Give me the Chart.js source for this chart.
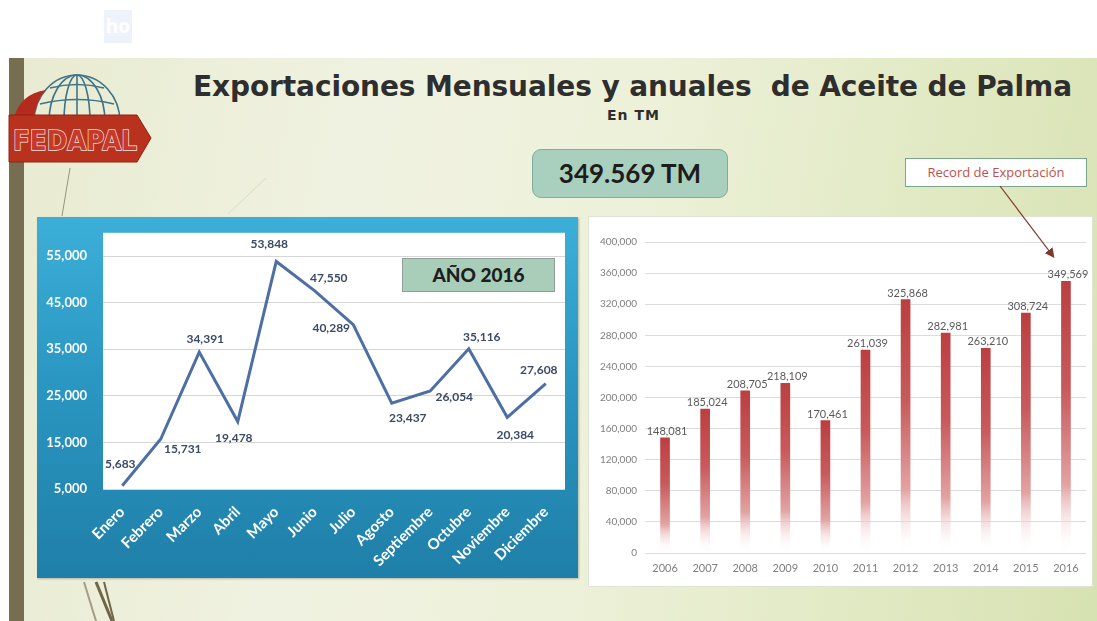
<!DOCTYPE html>
<html lang="es">
<head>
<meta charset="utf-8">
<title>Exportaciones de Aceite de Palma</title>
<script src="https://cdn.jsdelivr.net/npm/chart.js@4.4.1/dist/chart.umd.min.js"></script>
<style>
  body { margin: 0; width: 1097px; height: 621px; background: #fff; position: relative; overflow: hidden; font-family: Lato, sans-serif; }
  .abs { position: absolute; }
  #tag { left: 104px; top: 10px; width: 28px; height: 33px; background: #eef3fb; color: #fff; font: bold 19px 'Open Sans', sans-serif; line-height: 33px; text-align: center; }
  #slide { left: 9px; top: 58px; width: 1088px; height: 563px;
    background: linear-gradient(100deg, #e8ebd0 0%, #f0f2e1 30%, #edf1d9 55%, #e1e9c3 80%, #d7e2b2 100%); }
  #barra { left: 9px; top: 58px; width: 15px; height: 563px; background: #776e52; }
  #titulo { left: 193px; top: 70px; font: bold 28px 'DejaVu Sans', sans-serif; color: #2e2e2e; white-space: pre; }
  #sub { left: 607px; top: 107px; font: bold 14px 'DejaVu Sans', sans-serif; color: #2e2e2e; white-space: pre; }
  #total { left: 532px; top: 149px; width: 194px; height: 47px; border: 1px solid #83ad9a; border-radius: 9px; background: #a9cfbf;
    font: bold 26px Lato, sans-serif; color: #1c1c1c; line-height: 47px; text-align: center; }
  #record { left: 905px; top: 158px; width: 180px; height: 27px; border: 1px solid #79a58a; background: #fff;
    font: 13px 'Open Sans', sans-serif; color: #c0504d; line-height: 27px; text-align: center; }
  #panelIzq { left: 37px; top: 217px; width: 541px; height: 361px;
    background: linear-gradient(180deg, #3cafd8 0%, #2a97c2 45%, #1f7fa8 100%); box-shadow: 1px 1px 2px rgba(0,0,0,0.25); }
  #mensual { position: absolute; left: 0; top: -8px; }
  #panelDer { left: 588px; top: 216px; width: 503px; height: 369px; background: #fff; border: 1px solid #dfe3d6; }
  #anio { left: 402px; top: 258px; width: 151px; height: 32px; border: 1px solid #8f9e96; background: #a8cdb9;
    font: 900 19px Lato, sans-serif; color: #1e1e1e; line-height: 32px; text-align: center; }
</style>
</head>
<body>
<div id="tag" class="abs">ho</div>
<div id="slide" class="abs"></div>
<div id="barra" class="abs"></div>

<svg class="abs" style="left:0;top:0" width="1097" height="621">
  <!-- tallos decorativos del fondo -->
  <line x1="70" y1="168" x2="62" y2="216" stroke="#9a9478" stroke-width="1"/>
  <line x1="266" y1="178" x2="228" y2="214" stroke="#d8dcc6" stroke-width="1"/>
  <line x1="84" y1="582" x2="96" y2="621" stroke="#a39d86" stroke-width="2"/>
  <line x1="96" y1="582" x2="112" y2="621" stroke="#6f6548" stroke-width="3"/>
  <line x1="104" y1="582" x2="114" y2="621" stroke="#6f6548" stroke-width="2"/>
  <!-- logo -->
  <g fill="none" stroke="#3f7488" stroke-width="1.6">
    <path d="M34 122 A43 47 0 0 1 120 122"/>
    <path d="M49 122 A28 47 0 0 1 105 122"/>
    <path d="M64 122 A13 47 0 0 1 90 122"/>
    <line x1="77" y1="75" x2="77" y2="122"/>
    <path d="M40 104 Q77 95 114 104"/>
    <path d="M50 88 Q77 81 104 88"/>
  </g>
  <path d="M14 118 Q20 94 46 90 Q36 100 34 118 Z" fill="#b42b1e"/>
  <polygon points="9,115 137,115 151,138 137,162 9,162" fill="#b8321e" stroke="#8c2414" stroke-width="1"/>
  <text x="13" y="150" font-family="DejaVu Sans" font-weight="bold" font-size="26" textLength="124" lengthAdjust="spacingAndGlyphs"
        fill="#c8392a" stroke="#f0e6e0" stroke-width="1.4" paint-order="stroke">FEDAPAL</text>
</svg>

<div id="titulo" class="abs">Exportaciones Mensuales y anuales  de Aceite de Palma</div>
<div id="sub" class="abs">En TM</div>
<div id="total" class="abs">349.569 TM</div>
<div id="record" class="abs">Record de Exportación</div>

<div id="panelIzq" class="abs"><canvas id="mensual" width="541" height="369"></canvas></div>
<div id="panelDer" class="abs"><canvas id="anual" width="503" height="369"></canvas></div>
<div id="anio" class="abs">AÑO 2016</div>

<svg class="abs" style="left:0;top:0;pointer-events:none" width="1097" height="621">
  <defs>
    <marker id="punta" markerWidth="8" markerHeight="8" refX="6" refY="4" orient="auto">
      <path d="M0,0 L8,4 L0,8 Z" fill="#7b3a2c"/>
    </marker>
  </defs>
  <line x1="1000" y1="186" x2="1053" y2="256" stroke="#7b3a2c" stroke-width="1.2" marker-end="url(#punta)"/>
</svg>

<script>
// datos mensuales 2016 (TM)
const meses = ['Enero', 'Febrero', 'Marzo', 'Abril', 'Mayo', 'Junio', 'Julio', 'Agosto', 'Septiembre', 'Octubre', 'Noviembre', 'Diciembre'];
const exportMensual = [5683, 15731, 34391, 19478, 53848, 47550, 40289, 23437, 26054, 35116, 20384, 27608];
const ticksMensual = [5000, 15000, 25000, 35000, 45000, 55000];

// datos anuales (TM)
const anios = ['2006', '2007', '2008', '2009', '2010', '2011', '2012', '2013', '2014', '2015', '2016'];
const exportAnual = [148081, 185024, 208705, 218109, 170461, 261039, 325868, 282981, 263210, 308724, 349569];
const ticksAnual = [0, 40000, 80000, 120000, 160000, 200000, 240000, 280000, 320000, 360000, 400000];

const fmt = v => v.toLocaleString('en-US');

// el titulo ocupa el mismo ancho que en la lamina
function ajustarAncho(id, ancho) {
    const t = document.getElementById(id);
    const w = t.getBoundingClientRect().width;
    t.style.letterSpacing = ((ancho - w) / t.textContent.length) + 'px';
}
ajustarAncho('titulo', 879);
ajustarAncho('sub', 53);

// fondo blanco del area de trazado (grafico izquierdo)
const fondoBlanco = {
    id: 'fondoBlanco',
    beforeDraw(chart) {
        const { ctx, chartArea: a } = chart;
        ctx.save();
        ctx.fillStyle = '#fff';
        ctx.fillRect(a.left, a.top, a.right - a.left, a.bottom - a.top);
        ctx.restore();
    }
};

// etiquetas de valor junto a cada punto, desplazadas como en la lamina
const etiquetasLinea = {
    id: 'etiquetasLinea',
    afterDatasetsDraw(chart) {
        const desp = [[-2, -22], [22, 10], [6, -13], [-4, 17], [-7, -17], [14, -13], [-22, 4], [16, 15], [24, 6], [13, -12], [8, 18], [-7, -14]];
        const { ctx } = chart;
        const meta = chart.getDatasetMeta(0);
        ctx.save();
        ctx.font = 'bold 12px Lato';
        ctx.fillStyle = '#3b4a66';
        ctx.textAlign = 'center';
        ctx.textBaseline = 'middle';
        meta.data.forEach((pt, i) => {
            ctx.fillText(fmt(exportMensual[i]), pt.x + desp[i][0], pt.y + desp[i][1]);
        });
        ctx.restore();
    }
};

const etiquetasBarras = {
    id: 'etiquetasBarras',
    afterDatasetsDraw(chart) {
        const { ctx } = chart;
        const meta = chart.getDatasetMeta(0);
        ctx.save();
        ctx.font = '11px Lato';
        ctx.fillStyle = '#5a5a5a';
        ctx.textAlign = 'center';
        ctx.textBaseline = 'bottom';
        meta.data.forEach((bar, i) => {
            ctx.fillText(fmt(exportAnual[i]), bar.x + 2, bar.y - 1);
        });
        ctx.restore();
    }
};

function degradadoBarra(context) {
    const chart = context.chart;
    const y = chart.scales.y;
    if (!y || context.type !== 'data') return '#c0504d';
    const top = y.getPixelForValue(context.raw);
    const base = y.getPixelForValue(0);
    if (!isFinite(top) || !isFinite(base) || base - top < 1) return '#c0504d';
    const g = chart.ctx.createLinearGradient(0, top, 0, base);
    g.addColorStop(0, '#bb3f41');
    g.addColorStop(0.4, '#c85a5c');
    g.addColorStop(0.75, '#e2a3a3');
    g.addColorStop(1, 'rgba(255,255,255,0)');
    return g;
}

new Chart(document.getElementById('mensual'), {
    type: 'line',
    data: {
        labels: meses,
        datasets: [{ data: exportMensual, borderColor: '#4d6fa3', borderWidth: 3, pointRadius: 0, tension: 0, fill: false }]
    },
    options: {
        responsive: false,
        animation: false,
        layout: { padding: { top: 7, right: 13, left: 0, bottom: 0 } },
        plugins: { legend: { display: false }, tooltip: { enabled: false } },
        scales: {
            x: {
                offset: true,
                grid: { display: false },
                border: { display: false },
                afterFit(axis) { axis.height = 89; },
                ticks: { color: '#fff', font: { family: 'Lato', weight: 'bold', size: 15 }, minRotation: 45, maxRotation: 45, autoSkip: false, padding: 6 }
            },
            y: {
                min: 5000,
                max: 60000,
                afterBuildTicks(axis) { axis.ticks = ticksMensual.map(v => ({ value: v })); },
                afterFit(axis) { axis.width = 66; },
                grid: { color: '#d6d6d6', drawTicks: false },
                border: { display: false },
                ticks: { color: '#fff', font: { family: 'Lato', weight: 'bold', size: 13 }, padding: 16, callback: v => fmt(v) }
            }
        }
    },
    plugins: [fondoBlanco, etiquetasLinea]
});

new Chart(document.getElementById('anual'), {
    type: 'bar',
    data: {
        labels: anios,
        datasets: [{ data: exportAnual, backgroundColor: degradadoBarra, barThickness: 9 }]
    },
    options: {
        responsive: false,
        animation: false,
        layout: { padding: { top: 25, right: 6, left: 0, bottom: 0 } },
        plugins: { legend: { display: false }, tooltip: { enabled: false } },
        scales: {
            x: {
                grid: { display: false },
                border: { display: false },
                afterFit(axis) { axis.height = 33; },
                ticks: { color: '#7f7f7f', font: { family: 'Lato', size: 11 }, padding: 1 }
            },
            y: {
                min: 0,
                max: 400000,
                afterBuildTicks(axis) { axis.ticks = ticksAnual.map(v => ({ value: v })); },
                afterFit(axis) { axis.width = 56; },
                grid: { color: '#dcdcdc', drawTicks: false },
                border: { display: false },
                ticks: { color: '#808080', font: { family: 'Lato', size: 10 }, padding: 8, callback: v => fmt(v) }
            }
        }
    },
    plugins: [etiquetasBarras]
});
</script>
</body>
</html>
